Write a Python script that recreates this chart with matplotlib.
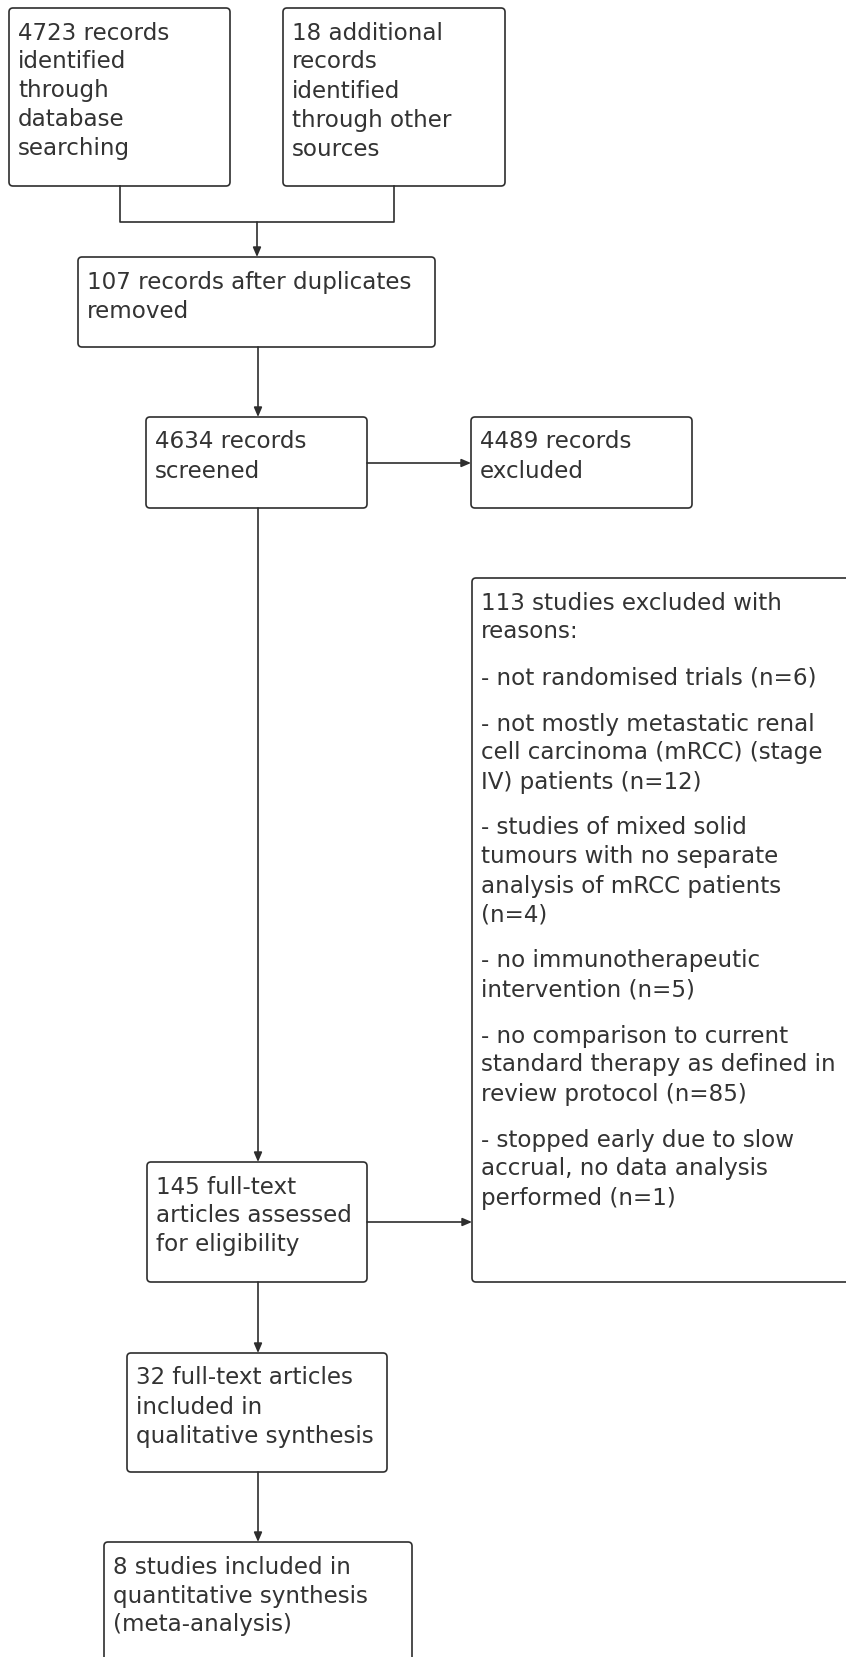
import matplotlib
matplotlib.use('Agg')
import matplotlib.pyplot as plt
from matplotlib.patches import FancyBboxPatch

# Texts of the flow diagram (one list per box)
identified_db = ["4723 records", "identified", "through", "database", "searching"]
identified_other = ["18 additional", "records", "identified", "through other", "sources"]
after_duplicates = ["107 records after duplicates", "removed"]
screened = ["4634 records", "screened"]
excluded = ["4489 records", "excluded"]
full_text = ["145 full-text", "articles assessed", "for eligibility"]
qualitative = ["32 full-text articles", "included in", "qualitative synthesis"]
quantitative = ["8 studies included in", "quantitative synthesis", "(meta-analysis)"]
reasons = [
    ["113 studies excluded with", "reasons:"],
    ["- not randomised trials (n=6)"],
    ["- not mostly metastatic renal", "cell carcinoma (mRCC) (stage", "IV) patients (n=12)"],
    ["- studies of mixed solid", "tumours with no separate", "analysis of mRCC patients", "(n=4)"],
    ["- no immunotherapeutic", "intervention (n=5)"],
    ["- no comparison to current", "standard therapy as defined in", "review protocol (n=85)"],
    ["- stopped early due to slow", "accrual, no data analysis", "performed (n=1)"],
]

W, H = 846, 1657
EDGE = '#2e2e2e'
TXT = '#333333'
FS = 16.6
LINE = 29
PARA = 46

fig = plt.figure(figsize=(W / 100, H / 100), dpi=100)
ax = fig.add_axes([0, 0, 1, 1])
ax.set_xlim(0, W)
ax.set_ylim(H, 0)
ax.axis('off')


def box(x0, y0, x1, y1, paragraphs):
    p = FancyBboxPatch((x0, y0), x1 - x0, y1 - y0,
                       boxstyle="round,pad=0,rounding_size=4",
                       fc='white', ec=EDGE, lw=1.2)
    ax.add_patch(p)
    y = y0 + 31.5
    for k, par in enumerate(paragraphs):
        if k > 0:
            y += PARA - LINE
        for line in par:
            ax.text(x0 + 9, y, line, fontsize=FS, color=TXT, va='baseline', ha='left')
            y += LINE


def arrow(x0, y0, x1, y1):
    ax.annotate('', xy=(x1, y1), xytext=(x0, y0),
                arrowprops=dict(arrowstyle='-|>,head_length=0.7,head_width=0.3',
                                mutation_scale=8, lw=1.2, color=EDGE,
                                shrinkA=0, shrinkB=0))


box(9, 8, 230, 186, [identified_db])
box(283, 8, 505, 186, [identified_other])
box(78, 257, 435, 347, [after_duplicates])
box(146, 417, 367, 508, [screened])
box(471, 417, 692, 508, [excluded])
box(472, 578, 900, 1282, reasons)
box(147, 1162, 367, 1282, [full_text])
box(127, 1353, 387, 1472, [qualitative])
box(104, 1542, 412, 1720, [quantitative])

# merge of the two sources
ax.plot([120, 120, 394, 394], [186, 222, 222, 186], color=EDGE, lw=1.2)
arrow(257, 222, 257, 257)
arrow(258, 347, 258, 417)
arrow(367, 463, 471, 463)
arrow(258, 508, 258, 1162)
arrow(367, 1222, 472, 1222)
arrow(258, 1282, 258, 1353)
arrow(258, 1472, 258, 1542)

fig.savefig('out.png', dpi=100, facecolor='white')
